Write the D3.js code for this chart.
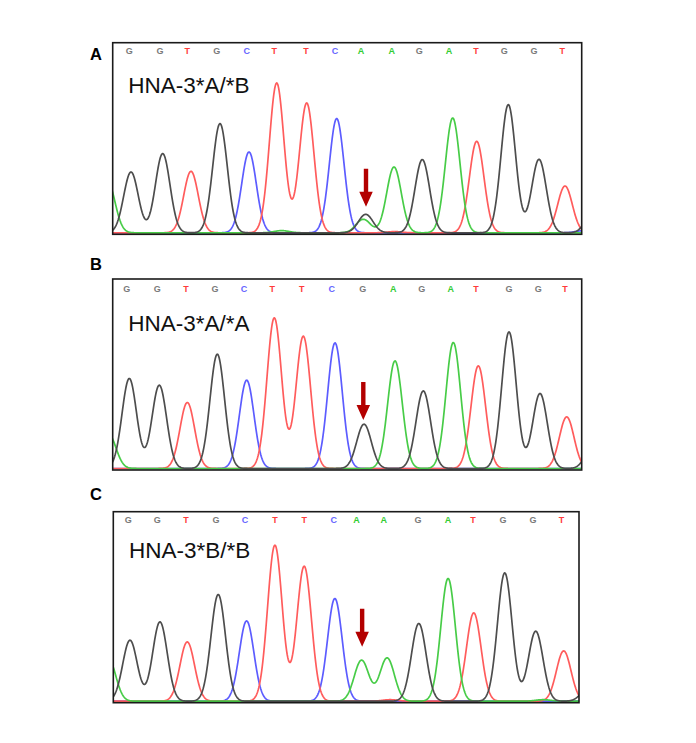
<!DOCTYPE html>
<html>
<head>
<meta charset="utf-8">
<script src="https://cdn.jsdelivr.net/npm/d3@7"></script>
<style>
  html, body { margin: 0; padding: 0; background: #fff; }
  svg { display: block; }
</style>
</head>
<body>
<svg id="chart" width="696" height="743"></svg>
<script>
// ---------------- DATA ----------------
const panelLabels = ["A", "B", "C"];
const genotypes = ["HNA-3*A/*B", "HNA-3*A/*A", "HNA-3*B/*B"];

// base calls shown along the top of each trace
const callsA = ["G","G","T","G","C","T","T","C","A","A","G","A","T","G","G","T"];
const callsB = ["G","G","T","G","C","T","T","C","G","A","G","A","T","G","G","T"];
const callsC = ["G","G","T","G","C","T","T","C","A","A","G","A","T","G","G","T"];
// call positions (scan units)
const callPosA = [16.6,47.3,74.6,104,134,161.6,193.3,222.3,248.3,279,306.6,336.3,363.3,391.6,421.3,449.6];
const callPosB = [14,44.6,73.3,102.3,131.3,159.6,189,219,250,280.6,309,338,363.3,396.3,425.6,452.3];
const callPosC = [15,44,72.7,102.7,131.7,161.7,191,220.7,243.4,270.7,305,335,360,390,420,448.4];

// peaks: channel, position (scan units), height (signal units)
const peakBaseA = ["A","G","G","T","G","C","T","T","C","G","A","A","G","A","T","G","G","T","A","T","G","C"];
const peakPosA  = [-5,18.3,50,78.3,107.3,136.3,164,194,224,253,250.6,281.3,309.6,340,364,395.6,426.3,452.3,169,282,480,470];
const peakHtA   = [510,608,792,615,1092,808,1498,1298,1142,185,135,658,732,1148,915,1282,735,468,22,12,200,20];

const peakBaseB = ["A","G","G","T","G","C","T","T","C","G","A","G","A","T","G","G","T","G"];
const peakPosB  = [-4,16.6,46.6,74.6,104.6,134,161.6,190.6,222.3,251.3,282.3,310.6,340.6,365.6,396.3,427.3,454,480];
const peakHtB   = [340,900,833,660,1143,883,1506,1323,1256,443,1076,776,1260,1026,1366,750,516,220];

const peakBaseC = ["A","G","G","T","G","C","T","T","C","A","A","G","A","T","G","G","T","T","A","G"];
const peakPosC  = [-5,16.7,46.7,74,105,133.4,161.7,191,221.7,248.4,274,305.7,335,360.7,391.7,422.7,450.7,277,430,475];
const peakHtC   = [430,610,793,593,1067,803,1560,1350,1027,410,433,777,1227,883,1283,700,503,15,15,120];

// red arrow marking the SNP position: position and tip height
const arrowPos = [253.3, 250.6, 249];
const arrowTip = [260, 485, 545];

const scanExtent = [469, 469, 466];
const peakSigma = 7.3;

// ---------------- STYLE / LAYOUT ----------------
const traceColor = { G: "#4d4d4d", A: "#47cc47", T: "#ff5c5c", C: "#5c5cff" };
const callColor  = { G: "#7a7a7a", A: "#33cc33", T: "#ff3b3b", C: "#6666ff" };
const frames = [
  { left: 112.7, top: 42.7,  width: 469,   height: 191.6 },
  { left: 112.7, top: 279,   width: 469,   height: 191 },
  { left: 113.3, top: 511.7, width: 465.7, height: 191 }
];
const labelY = [59.7, 270, 500];
const callOffset = [11, 12.7, 11];
const textOffset = [50.3, 51.7, 46];

const panels = [
  { calls: callsA, callPos: callPosA, base: peakBaseA, pos: peakPosA, ht: peakHtA },
  { calls: callsB, callPos: callPosB, base: peakBaseB, pos: peakPosB, ht: peakHtB },
  { calls: callsC, callPos: callPosC, base: peakBaseC, pos: peakPosC, ht: peakHtC }
];

const svg = d3.select("#chart");
const font = "'Liberation Sans', Arial, Helvetica, sans-serif";
const defs = svg.append("defs");

panels.forEach((p, i) => {
  const f = frames[i];
  const x = d3.scaleLinear().domain([0, scanExtent[i]]).range([f.left, f.left + f.width]);
  const baseY = f.top + f.height - 1.5;
  const y = d3.scaleLinear().domain([0, 1900]).range([baseY, baseY - 190]);

  const clipId = "clip" + i;
  defs.append("clipPath").attr("id", clipId)
    .append("rect").attr("x", f.left).attr("y", f.top).attr("width", f.width).attr("height", f.height);

  const g = svg.append("g");

  // panel letter
  g.append("text").attr("x", 90).attr("y", labelY[i])
    .attr("font-family", font).attr("font-weight", "bold").attr("font-size", 16.5)
    .attr("fill", "#000").text(panelLabels[i]);

  // traces
  const tg = g.append("g").attr("clip-path", `url(#${clipId})`);
  const samples = d3.range(-10, scanExtent[i] + 10.01, 0.5);
  ["C", "T", "A", "G"].forEach(ch => {
    const idx = p.base.map((b, k) => b === ch ? k : -1).filter(k => k >= 0);
    const pts = samples.map(s => {
      let v = 0;
      idx.forEach(k => {
        const d = s - p.pos[k];
        v += p.ht[k] * Math.exp(-(d * d) / (2 * peakSigma * peakSigma));
      });
      return [s, v];
    });
    tg.append("path")
      .attr("d", d3.line().x(d => x(d[0])).y(d => y(d[1])).curve(d3.curveLinear)(pts))
      .attr("fill", "none").attr("stroke", traceColor[ch]).attr("stroke-width", 1.7)
      .attr("stroke-linejoin", "round");
  });

  // base calls
  g.selectAll(".call").data(p.calls).enter().append("text")
    .attr("x", (d, k) => x(p.callPos[k])).attr("y", f.top + callOffset[i])
    .attr("text-anchor", "middle").attr("font-family", font).attr("font-weight", "bold")
    .attr("font-size", 9).attr("fill", d => callColor[d]).text(d => d);

  // genotype label
  g.append("text").attr("x", f.left + 15.6).attr("y", f.top + textOffset[i])
    .attr("font-family", font).attr("font-size", 22.5).attr("fill", "#111").text(genotypes[i]);

  // arrow
  const ax = x(arrowPos[i]);
  const tipY = y(arrowTip[i]);
  const len = 38, headLen = 15, shaftW = 4.4, headW = 13.5;
  const arrowPts = [
    [ax - shaftW / 2, tipY - len], [ax + shaftW / 2, tipY - len],
    [ax + shaftW / 2, tipY - headLen], [ax + headW / 2, tipY - headLen],
    [ax, tipY], [ax - headW / 2, tipY - headLen], [ax - shaftW / 2, tipY - headLen]
  ];
  g.append("path").attr("d", d3.line()(arrowPts) + "Z").attr("fill", "#b30000");

  // frame
  g.append("rect").attr("x", f.left).attr("y", f.top).attr("width", f.width).attr("height", f.height)
    .attr("fill", "none").attr("stroke", "#1a1a1a").attr("stroke-width", 1.6);
});
</script>
</body>
</html>
